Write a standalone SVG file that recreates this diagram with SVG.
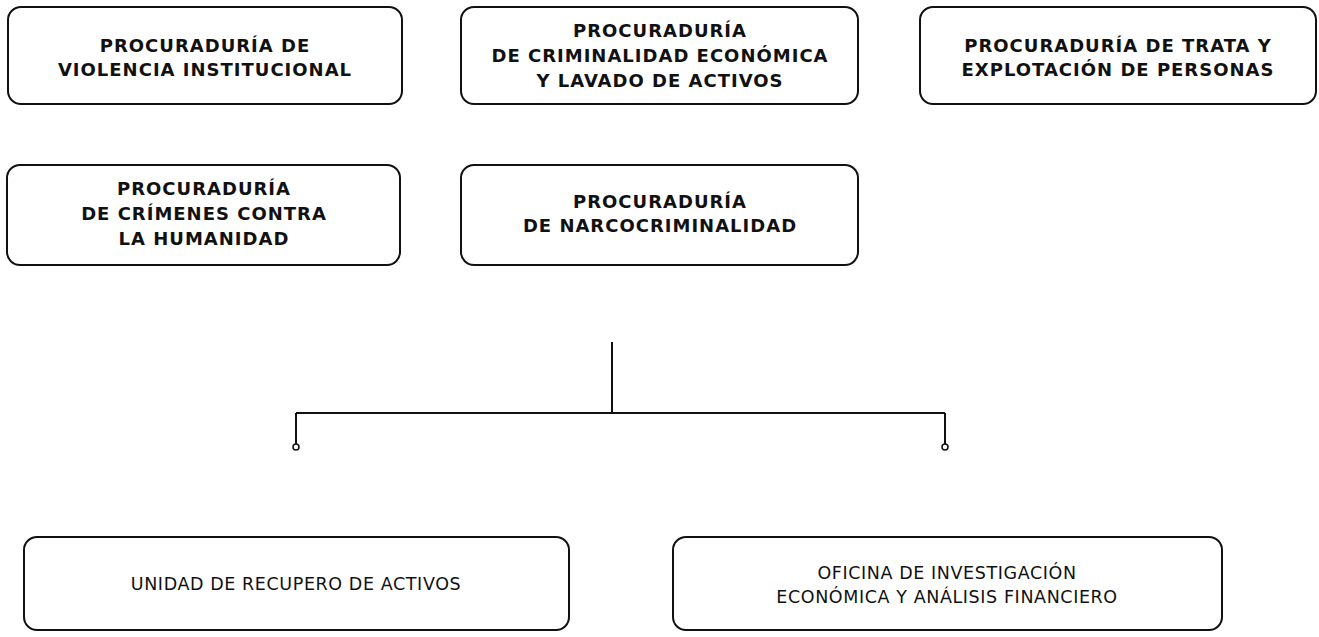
<svg xmlns="http://www.w3.org/2000/svg" width="1319" height="637" viewBox="0 0 1319 637">
<style>
.box{fill:#fff;stroke:#111;stroke-width:2}
.t{font-family:"DejaVu Sans","Liberation Sans",sans-serif;font-weight:bold;font-size:18px;letter-spacing:1px;fill:#111;text-anchor:middle}
.u{font-family:"DejaVu Sans","Liberation Sans",sans-serif;font-weight:normal;font-size:17.5px;letter-spacing:0.6px;fill:#111;text-anchor:middle}
.c{fill:none;stroke:#111;stroke-width:2}
</style>
<rect width="1319" height="637" fill="#fff"/>
<g id="n1"><rect class="box" x="8" y="7" width="394" height="97" rx="13"/>
<text class="t" x="205" y="52">PROCURADURÍA DE</text><text class="t" x="205" y="76">VIOLENCIA INSTITUCIONAL</text></g>
<g id="n2"><rect class="box" x="461" y="7" width="397" height="97" rx="13"/>
<text class="t" x="660" y="37">PROCURADURÍA</text><text class="t" x="660" y="62">DE CRIMINALIDAD ECONÓMICA</text><text class="t" x="660" y="87">Y LAVADO DE ACTIVOS</text></g>
<g id="n3"><rect class="box" x="920" y="7" width="396" height="97" rx="13"/>
<text class="t" x="1118" y="52">PROCURADURÍA DE TRATA Y</text><text class="t" x="1118" y="76">EXPLOTACIÓN DE PERSONAS</text></g>
<g id="n4"><rect class="box" x="7" y="165" width="393" height="100" rx="13"/>
<text class="t" x="204" y="195">PROCURADURÍA</text><text class="t" x="204" y="220">DE CRÍMENES CONTRA</text><text class="t" x="204" y="245">LA HUMANIDAD</text></g>
<g id="n5"><rect class="box" x="461" y="165" width="397" height="100" rx="13"/>
<text class="t" x="660" y="208">PROCURADURÍA</text><text class="t" x="660" y="232">DE NARCOCRIMINALIDAD</text></g>
<g id="connectors">
<path class="c" d="M612 342 V413 M296 413 H945 M296 413 V444 M945 413 V444"/>
<circle cx="296" cy="447" r="3" fill="#fff" stroke="#111" stroke-width="1.5"/>
<circle cx="945" cy="447" r="3" fill="#fff" stroke="#111" stroke-width="1.5"/>
</g>
<g id="n6"><rect class="box" x="24" y="537" width="545" height="93" rx="13"/>
<text class="u" x="296" y="590">UNIDAD DE RECUPERO DE ACTIVOS</text></g>
<g id="n7"><rect class="box" x="673" y="537" width="549" height="93" rx="13"/>
<text class="u" x="947" y="579">OFICINA DE INVESTIGACIÓN</text><text class="u" x="947" y="603">ECONÓMICA Y ANÁLISIS FINANCIERO</text></g>
</svg>
